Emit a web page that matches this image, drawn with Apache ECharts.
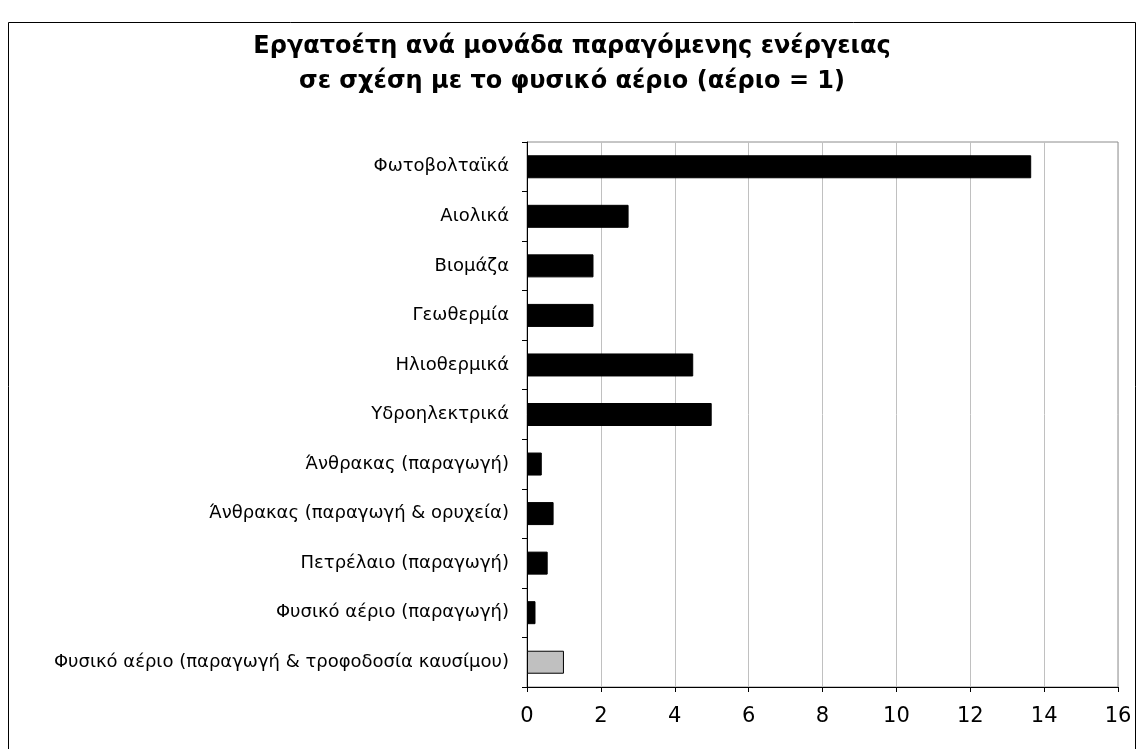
<!DOCTYPE html>
<html>
<head>
<meta charset="utf-8">
<script src="https://cdn.jsdelivr.net/npm/echarts@6/dist/echarts.min.js"></script>
<style>
    html, body { margin: 0; padding: 0; background: #fff; }
    #chart { width: 1144px; height: 749px; }
</style>
</head>
<body>
<div id="chart"></div>
<script>
const titleLines = [
    'Εργατοέτη ανά μονάδα παραγόμενης ενέργειας',
    'σε σχέση με το φυσικό αέριο (αέριο = 1)'
];

// top to bottom, as in the picture
const categories = [
    'Φωτοβολταϊκά',
    'Αιολικά',
    'Βιομάζα',
    'Γεωθερμία',
    'Ηλιοθερμικά',
    'Υδροηλεκτρικά',
    'Άνθρακας (παραγωγή)',
    'Άνθρακας (παραγωγή & ορυχεία)',
    'Πετρέλαιο (παραγωγή)',
    'Φυσικό αέριο (παραγωγή)',
    'Φυσικό αέριο (παραγωγή & τροφοδοσία καυσίμου)'
];
const values = [13.65, 2.75, 1.8, 1.8, 4.5, 5.0, 0.4, 0.72, 0.56, 0.23, 1.0];
const baseCategory = 'Φυσικό αέριο (παραγωγή & τροφοδοσία καυσίμου)';

const xTicks = [0, 2, 4, 6, 8, 10, 12, 14, 16];

let chartDom = document.getElementById('chart');
let myChart = echarts.init(chartDom);

const font = 'DejaVu Sans, Verdana, sans-serif';

const option = {
    animation: false,
    title: {
        text: titleLines.join('\n'),
        left: 'center',
        top: 24,
        textStyle: {
            fontFamily: font,
            fontSize: 24,
            fontWeight: 'bold',
            color: '#000',
            lineHeight: 35,
        },
    },
    graphic: [{
        type: 'rect',
        shape: {x: 8.5, y: 22.5, width: 1127, height: 740},
        style: {fill: 'none', stroke: '#000', lineWidth: 1},
        z: -1,
    }],
    grid: {
        left: 527,
        right: 26,
        top: 142,
        bottom: 62,
        show: true,
        borderColor: '#8c8c8c',
        borderWidth: 1,
    },
    xAxis: {
        type: 'value',
        min: xTicks[0],
        max: xTicks[xTicks.length - 1],
        interval: 2,
        axisLine: {show: true, lineStyle: {color: '#000', width: 1}},
        axisTick: {show: true, length: 5, lineStyle: {color: '#000'}},
        splitLine: {show: true, lineStyle: {color: '#c0c0c0', width: 1}},
        axisLabel: {
            fontFamily: font,
            fontSize: 21,
            color: '#000',
            margin: 19,
        },
    },
    yAxis: {
        type: 'category',
        inverse: true,
        data: categories,
        axisLine: {show: true, lineStyle: {color: '#000', width: 1}},
        axisTick: {show: true, length: 5, lineStyle: {color: '#000'}},
        splitLine: {show: false},
        axisLabel: {
            fontFamily: font,
            fontSize: 18,
            color: '#000',
            margin: 18,
        },
    },
    series: [{
        type: 'bar',
        data: values,
        barWidth: 23,
        itemStyle: {
            color: params => categories[params.dataIndex] === baseCategory ? '#c0c0c0' : '#000',
            borderColor: '#000',
            borderWidth: 1,
        },
    }],
};

myChart.setOption(option);
</script>
</body>
</html>
